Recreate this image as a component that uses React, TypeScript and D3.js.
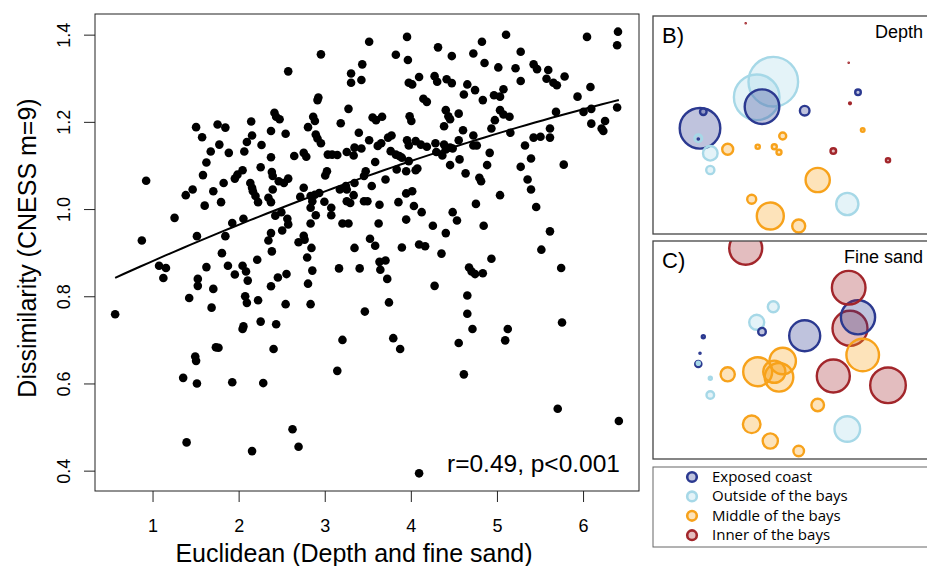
import React from 'react';
import * as d3 from 'd3';

// pairwise site comparisons: environmental distance vs community dissimilarity
const euclidean = [
  2.95, 2.57, 3.30, 3.30, 2.92, 2.91, 3.27, 2.41, 2.43, 2.47,
  2.86, 2.88, 1.50, 1.75, 1.84, 2.14, 3.18, 2.80, 2.37, 2.54,
  3.39, 1.57, 2.15, 2.89, 2.91, 2.95, 2.09, 1.77, 2.26, 3.34,
  3.25, 1.67, 1.88, 2.06, 2.64, 2.75, 2.78, 3.03, 3.08, 3.14,
  3.33, 2.37, 1.62, 2.25, 2.04, 1.98, 1.95, 1.58, 2.38, 2.39,
  2.46, 2.52, 2.57, 3.02, 3.00, 2.13, 2.15, 1.82, 1.46, 1.38,
  1.70, 2.16, 2.19, 2.22, 2.39, 2.34, 2.37, 2.75, 2.71, 2.83,
  2.88, 2.93, 2.85, 2.83, 2.99, 3.07, 3.17, 3.24, 3.25, 3.34,
  3.33, 3.25, 3.29, 1.79, 1.60, 1.25, 1.92, 2.05, 2.42, 2.49,
  2.56, 2.57, 2.50, 2.83, 2.89, 3.07, 3.20, 3.27, 0.87, 1.51,
  1.84, 2.37, 2.34, 2.69, 2.76, 2.84, 3.34, 0.92, 2.75,
  3.51, 3.95, 3.82, 3.96, 4.31, 4.47, 4.82, 4.72, 5.10, 5.27,
  6.04, 6.40, 6.39, 3.43, 3.42, 4.09, 3.97, 4.01, 4.27, 4.30,
  4.41, 4.47, 4.65, 4.74, 4.61, 4.85, 5.01, 5.21, 5.27, 5.42,
  5.46, 5.59, 5.57, 5.65, 5.69, 5.78, 5.07, 4.96, 5.03, 4.83,
  4.14, 4.18, 5.93, 6.08, 3.55, 3.59, 3.66, 3.98, 4.00, 4.40,
  4.43, 4.45, 4.55, 4.38, 4.60, 5.03, 5.07, 5.14, 4.97, 4.93,
  5.15, 5.68, 6.00, 6.09, 6.39, 6.09, 6.25, 6.21, 6.23, 5.61,
  5.61, 5.42, 5.50, 5.32, 3.51, 3.42, 3.61, 3.65, 3.73,
  3.77, 3.76, 3.82, 3.86, 3.89, 3.95, 3.97, 4.05, 4.11, 4.18,
  4.28, 4.29, 4.38, 4.40, 4.36, 4.45, 4.48, 4.55, 4.72, 4.72,
  4.76, 4.91, 4.56, 4.45, 4.88, 3.97, 3.83, 3.94, 4.05, 4.07,
  3.58, 3.47, 3.45, 3.70, 3.54, 4.63, 4.79, 4.81, 5.27, 5.39,
  5.77, 5.35, 5.39, 5.03, 5.45, 4.75, 3.45, 3.49, 3.63, 3.85,
  3.94, 4.01, 4.03, 4.12, 4.48, 4.53, 3.94, 3.62, 4.25, 4.40,
  4.84, 5.61, 3.52, 3.58, 3.89, 4.09, 4.16, 5.51,
  2.38, 1.80, 2.79, 2.21, 1.07, 1.15, 1.12, 1.62, 1.87, 2.04,
  2.08, 1.95, 1.52, 1.52, 2.10, 1.70, 2.45, 2.55, 2.37, 2.80,
  2.85, 3.16, 3.40, 0.56, 1.42, 1.68, 2.07, 2.09, 2.22, 2.54,
  2.83, 2.25, 2.43, 2.05, 2.04, 3.46, 3.20, 1.73, 1.76, 2.40,
  1.49, 1.50, 1.35, 1.51, 1.92, 2.28, 3.14, 2.62, 2.69, 1.39,
  2.15,
  4.35, 4.93, 3.63, 3.70, 3.64, 3.72, 4.27, 4.67, 4.70, 4.74,
  4.83, 5.74, 4.65, 3.74, 4.65, 4.71, 5.12, 5.09, 5.75, 3.79,
  3.87, 4.55, 4.61, 5.70, 6.41, 4.09,
];

const dissimilarity = [
  1.356, 1.317, 1.312, 1.291, 1.257, 1.251, 1.231, 1.222, 1.213, 1.207,
  1.213, 1.203, 1.189, 1.195, 1.188, 1.202, 1.198, 1.189, 1.180, 1.174,
  1.176, 1.166, 1.170, 1.172, 1.163, 1.152, 1.155, 1.149, 1.148, 1.142,
  1.132, 1.133, 1.130, 1.133, 1.123, 1.130, 1.121, 1.126, 1.126, 1.125,
  1.124, 1.120, 1.108, 1.097, 1.090, 1.080, 1.071, 1.079, 1.086, 1.077,
  1.065, 1.061, 1.071, 1.088, 1.078, 1.061, 1.050, 1.061, 1.046, 1.033,
  1.042, 1.042, 1.031, 1.017, 1.046, 1.027, 1.017, 1.050, 1.029, 1.031,
  1.034, 1.038, 1.019, 1.004, 1.018, 1.004, 1.046, 1.054, 1.046, 1.061,
  1.033, 1.019, 1.015, 1.017, 1.009, 0.981, 0.969, 0.979, 0.986, 0.994,
  0.979, 0.966, 0.952, 0.968, 0.987, 0.987, 0.968, 0.968, 0.929, 0.939,
  0.939, 0.946, 0.929, 0.925, 0.931, 0.912, 0.912, 1.066, 0.940,
  1.385, 1.396, 1.355, 1.343, 1.372, 1.352, 1.385, 1.358, 1.401, 1.362,
  1.396, 1.408, 1.377, 1.333, 1.297, 1.304, 1.291, 1.287, 1.306, 1.293,
  1.299, 1.290, 1.287, 1.274, 1.264, 1.336, 1.326, 1.324, 1.295, 1.333,
  1.322, 1.320, 1.300, 1.291, 1.285, 1.305, 1.276, 1.262, 1.259, 1.251,
  1.254, 1.247, 1.259, 1.281, 1.211, 1.205, 1.213, 1.214, 1.203, 1.228,
  1.214, 1.207, 1.220, 1.191, 1.182, 1.228, 1.218, 1.213, 1.205, 1.186,
  1.176, 1.224, 1.224, 1.231, 1.234, 1.197, 1.203, 1.186, 1.180, 1.186,
  1.165, 1.165, 1.167, 1.147, 1.159, 1.140, 1.146, 1.152, 1.165,
  1.170, 1.134, 1.126, 1.123, 1.119, 1.159, 1.147, 1.157, 1.149, 1.144,
  1.152, 1.132, 1.149, 1.138, 1.124, 1.142, 1.140, 1.159, 1.170, 1.147,
  1.147, 1.130, 1.115, 1.102, 1.102, 1.111, 1.092, 1.088, 1.090, 1.094,
  1.109, 1.088, 1.077, 1.069, 1.054, 1.083, 1.073, 1.065, 1.098, 1.117,
  1.103, 1.069, 1.046, 1.033, 1.006, 1.013, 1.019, 1.019, 1.011, 1.017,
  1.037, 1.042, 1.008, 0.994, 0.994, 0.975, 0.977, 0.968, 0.963, 0.946,
  0.963, 0.950, 0.933, 0.917, 0.913, 0.920, 0.916, 0.908,
  0.904, 0.900, 0.890, 0.885, 0.871, 0.866, 0.843, 0.868, 0.871, 0.871,
  0.858, 0.851, 0.841, 0.825, 0.837, 0.818, 0.844, 0.852, 0.824, 0.830,
  0.860, 0.865, 0.865, 0.760, 0.797, 0.775, 0.801, 0.786, 0.792, 0.783,
  0.783, 0.743, 0.737, 0.732, 0.726, 0.766, 0.701, 0.684, 0.683, 0.680,
  0.663, 0.653, 0.614, 0.601, 0.604, 0.602, 0.630, 0.496, 0.456, 0.466,
  0.446,
  0.899, 0.887, 0.880, 0.883, 0.862, 0.841, 0.825, 0.867, 0.858, 0.852,
  0.854, 0.866, 0.803, 0.787, 0.761, 0.726, 0.726, 0.700, 0.741, 0.705,
  0.680, 0.694, 0.622, 0.543, 0.515, 0.395,
];

const xTicks = [1, 2, 3, 4, 5, 6];
const yTicks = [0.4, 0.6, 0.8, 1.0, 1.2, 1.4];
// quadratic fit
const fitCoef = [0.7921, 0.09354, -0.003417];
const statLabel = 'r=0.49, p<0.001';

// sampling sites for the two bubble maps
const zones = ['Exposed coast', 'Outside of the bays', 'Middle of the bays', 'Inner of the bays'];
const zoneColors = ['#2b3990', '#a6d8e7', '#f7a21b', '#a2262b'];
const siteZone = [3, 3, 0, 3, 1, 1, 0, 0, 0, 0, 1, 0, 1, 1, 2, 2, 2, 2, 2, 2, 3, 3, 2, 1, 2, 2, 2];
const siteEast = [9.57, 19.87, 20.8, 20.0, 12.33, 10.67, 11.2, 15.47, 5.0, 5.33, 4.83, 4.83, 6.03, 6.03,
  7.77, 13.27, 10.77, 12.43, 12.9, 21.27, 18.33, 23.8, 16.77, 19.73, 10.17, 12.03, 14.87];
const siteNorth = [21.67, 17.73, 14.77, 13.67, 15.83, 14.27, 13.33, 12.93, 11.17, 12.83, 10.17, 10.1, 8.67, 7.0,
  9.07, 10.4, 9.33, 9.33, 8.77, 11.0, 8.9, 7.97, 6.0, 3.6, 4.07, 2.4, 1.4];
const depthSize = [1.6, 1.6, 4, 2.2, 26, 24, 18.5, 6, 21.5, 4.5, 5, 2, 8.5, 5.3,
  6.7, 4.7, 3.3, 3.7, 3.7, 3, 4, 3.3, 13.3, 12.3, 5.7, 14.7, 7.7];
const sandSize = [17.7, 18, 18.3, 18.7, 6.7, 8.7, 5, 16.7, 2, 2.7, 2.7, 4.3, 2.7, 5,
  8.3, 14.4, 15.7, 12.3, 15.5, 17.5, 17.7, 19, 7.5, 14, 10, 8.8, 6.5];

const FONT = 'Liberation Sans, Arial, sans-serif';

function pad(ext: [number, number]): [number, number] {
  const d = (ext[1] - ext[0]) * 0.04;
  return [ext[0] - d, ext[1] + d];
}

function BubblePanel({ top, label, title, sizes, id }: any) {
  const x = d3.scaleLinear().domain([0, 27.7]).range([650, 927]);
  const y = d3.scaleLinear().domain([0, 23]).range([top + 224, top - 6]);
  const r = d3.scaleLinear().domain([0, 26]).range([0, 26]);
  const order = d3.range(sizes.length).sort((a, b) => sizes[b] - sizes[a]);
  return (
    <g>
      <defs>
        <clipPath id={id}>
          <rect x={653} y={top} width={300} height={218} />
        </clipPath>
      </defs>
      <g clipPath={`url(#${id})`}>
        {order.map(i => {
          const c = zoneColors[siteZone[i]];
          const rr = r(sizes[i]);
          return (
            <circle key={i} cx={x(siteEast[i])} cy={y(siteNorth[i])}
              r={Math.max(rr - 1.2, 0.5)} fill={c} fillOpacity={0.3}
              stroke={c} strokeWidth={Math.min(2.4, rr)} />
          );
        })}
      </g>
      <rect x={653} y={top} width={300} height={218} fill="none" stroke="#444" strokeWidth={1.3} />
      <text x={662} y={top + 27} fontSize={22} fontFamily={FONT}>{label}</text>
      <text x={923} y={top + 22} fontSize={18} fontFamily={FONT} textAnchor="end">{title}</text>
    </g>
  );
}

export default function App() {
  const x = d3.scaleLinear().domain(pad(d3.extent(euclidean) as [number, number])).range([95, 639]);
  const y = d3.scaleLinear().domain(pad(d3.extent(dissimilarity) as [number, number])).range([491, 14]);
  const [x0, x1] = d3.extent(euclidean) as [number, number];
  const fitX = d3.range(x0, x1 + 0.001, (x1 - x0) / 60);
  const fitLine = d3.line<number>()
    .x(d => x(d))
    .y(d => y(fitCoef[0] + fitCoef[1] * d + fitCoef[2] * d * d));

  return (
    <svg width={927} height={566} style={{ position: 'absolute', left: 0, top: 0, background: '#fff' }}>
      {/* main scatter */}
      <rect x={95} y={14} width={544} height={477} fill="none" stroke="#222" strokeWidth={1} />
      {euclidean.map((v, i) => (
        <circle key={i} cx={x(v)} cy={y(dissimilarity[i])} r={4.3} fill="#000" />
      ))}
      <path d={fitLine(fitX) || ''} fill="none" stroke="#000" strokeWidth={2} />
      {xTicks.map(t => (
        <g key={t}>
          <line x1={x(t)} x2={x(t)} y1={491} y2={502} stroke="#222" />
          <text x={x(t)} y={532} fontSize={18} fontFamily={FONT} textAnchor="middle">{t}</text>
        </g>
      ))}
      {yTicks.map(t => (
        <g key={t}>
          <line x1={84} x2={95} y1={y(t)} y2={y(t)} stroke="#222" />
          <text transform={`translate(70,${y(t)}) rotate(-90)`} fontSize={18} fontFamily={FONT}
            textAnchor="middle">{t.toFixed(1)}</text>
        </g>
      ))}
      <text x={354} y={562} fontSize={25} fontFamily={FONT} textAnchor="middle">
        Euclidean (Depth and fine sand)
      </text>
      <text transform="translate(36,248) rotate(-90)" fontSize={25} fontFamily={FONT} textAnchor="middle">
        Dissimilarity (CNESS m=9)
      </text>
      <text x={620} y={472} fontSize={24.5} fontFamily={FONT} textAnchor="end">{statLabel}</text>

      {/* bubble maps */}
      <BubblePanel id="clipB" top={16} label="B)" title="Depth" sizes={depthSize} />
      <BubblePanel id="clipC" top={241} label="C)" title="Fine sand" sizes={sandSize} />

      {/* legend */}
      <rect x={653} y={467} width={300} height={80} fill="none" stroke="#666" strokeWidth={1} />
      {zones.map((z, i) => (
        <g key={z}>
          <circle cx={692} cy={477 + i * 19.4} r={4.8} fill={zoneColors[i]} fillOpacity={0.3}
            stroke={zoneColors[i]} strokeWidth={2.6} />
          <text x={712} y={482 + i * 19.4} fontSize={15} fontFamily="Open Sans, sans-serif">{z}</text>
        </g>
      ))}
    </svg>
  );
}
